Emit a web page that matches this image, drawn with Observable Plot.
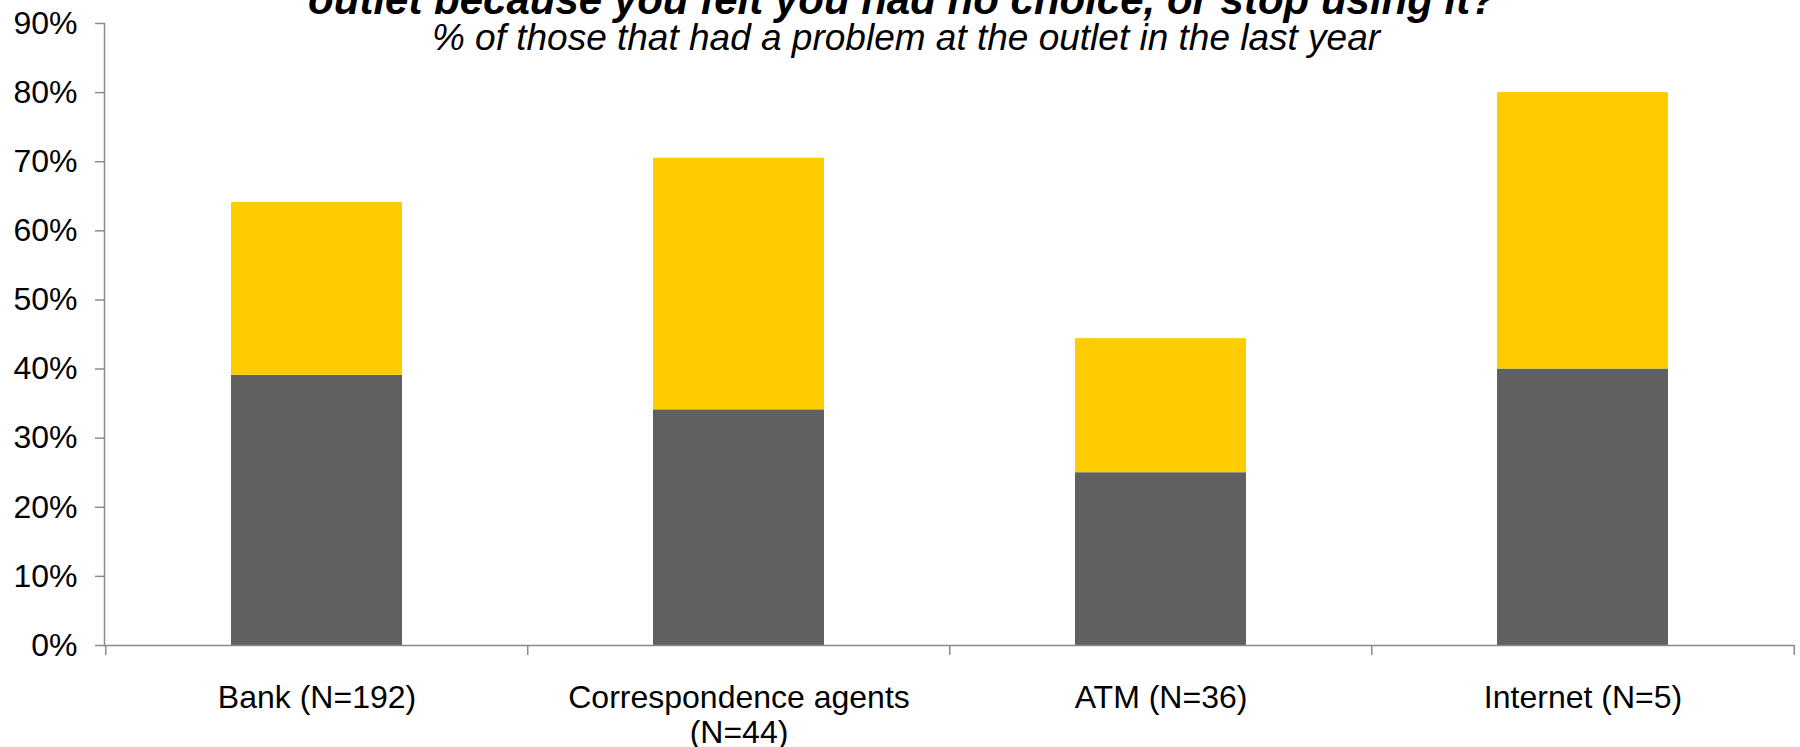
<!DOCTYPE html>
<html>
<head>
<meta charset="utf-8">
<script src="https://cdn.jsdelivr.net/npm/d3@7"></script>
<script src="https://cdn.jsdelivr.net/npm/@observablehq/plot@0.6"></script>
<style>
  html, body { margin: 0; padding: 0; background: #fff; overflow: hidden; }
  #wrap { position: relative; width: 1800px; height: 747px; overflow: hidden; }
  .head { position: absolute; text-align: center; white-space: nowrap; color: #000;
          font-family: "Liberation Sans", Arial, sans-serif; line-height: 1; }
  #title { left: 4px; width: 1796px; top: -21.5px; font-size: 42px; font-weight: bold; font-style: italic; }
  #subtitle { left: 12px; width: 1788px; top: 18.7px; font-size: 37px; font-style: italic; }
  #chart { position: absolute; left: 0; top: 0; }
</style>
</head>
<body>
<div id="wrap">
  <div id="chart"></div>
  <div id="title" class="head"></div>
  <div id="subtitle" class="head"></div>
</div>
<script>
// Outlets, with respondent counts, in drawing order
const categories = ["Bank (N=192)", "Correspondence agents\n(N=44)", "ATM (N=36)", "Internet (N=5)"];
// Stacked series (percent of those with a problem at the outlet)
const seriesNames = ["Continued using, no choice", "Stopped using"];
const continuedNoChoice = [39.1, 34.1, 25.0, 40.0];
const stoppedUsing = [25.0, 36.4, 19.4, 40.0];
const seriesColors = ["#606060", "#FFCC00"];
// Percent axis ticks
const yTicks = [0, 10, 20, 30, 40, 50, 60, 70, 80, 90];

const titleText = "outlet because you felt you had no choice, or stop using it?";
const subtitleText = "% of those that had a problem at the outlet in the last year";

document.getElementById("title").textContent = titleText;
document.getElementById("subtitle").textContent = subtitleText;

const rows = categories.flatMap((category, i) => [
  {category, series: seriesNames[0], value: continuedNoChoice[i]},
  {category, series: seriesNames[1], value: stoppedUsing[i]}
]);

const width = 1800, height = 747;
const marginLeft = 104, marginRight = 6, marginTop = 23, marginBottom = 102;
const axisColor = "#8a8a8a";
const step = (width - marginLeft - marginRight) / categories.length;

const chart = Plot.plot({
  width, height, marginLeft, marginRight, marginTop, marginBottom,
  style: {fontFamily: "'Liberation Sans', Arial, sans-serif", fontSize: "32px", color: "#000", background: "transparent"},
  x: {domain: categories, paddingInner: 0.595, paddingOuter: 0.2975, label: null},
  y: {domain: [0, 90], label: null},
  color: {domain: seriesNames, range: seriesColors},
  marks: [
    Plot.barY(rows, Plot.stackY({x: "category", y: "value", fill: "series", order: seriesNames})),
    // value axis line
    Plot.frame({anchor: "left", stroke: axisColor, strokeWidth: 1.5}),
    // category axis line
    Plot.ruleY([0], {stroke: axisColor, strokeWidth: 1.5}),
    // category boundary ticks
    Plot.ruleX(categories, {x: d => d, dx: -step / 2, y1: 0, y2: 0, insetBottom: -10, stroke: axisColor, strokeWidth: 1.5}),
    Plot.ruleX(categories.slice(-1), {x: d => d, dx: step / 2, y1: 0, y2: 0, insetBottom: -10, stroke: axisColor, strokeWidth: 1.5}),
    Plot.axisY({ticks: yTicks, tickFormat: d => `${d}%`, tickSize: 9, tickPadding: 18, stroke: axisColor, strokeWidth: 1.5, strokeOpacity: 1, fontSize: 32, fill: "#000"}),
    Plot.axisX({tickSize: 0, tickPadding: 37, fontSize: 32, lineHeight: 1.1, fill: "#000"})
  ]
});

document.getElementById("chart").appendChild(chart);
</script>
</body>
</html>
